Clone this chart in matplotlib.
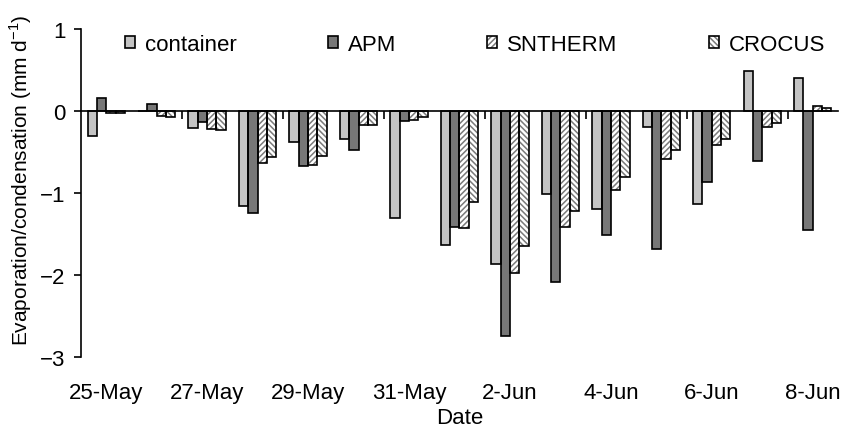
import numpy as np
import matplotlib.pyplot as plt

plt.rcParams['font.family'] = ['Liberation Sans', 'DejaVu Sans']
plt.rcParams['mathtext.fontset'] = 'custom'
plt.rcParams['mathtext.rm'] = 'Liberation Sans'
plt.rcParams['hatch.linewidth'] = 1.1

# daily evaporation/condensation (mm d-1)
dates = ['25-May', '26-May', '27-May', '28-May', '29-May', '30-May', '31-May', '1-Jun',
         '2-Jun', '3-Jun', '4-Jun', '5-Jun', '6-Jun', '7-Jun', '8-Jun']
container = [-0.31, 0.0, -0.21, -1.16, -0.38, -0.34, -1.30, -1.63,
             -1.87, -1.01, -1.20, -0.19, -1.14, 0.49, 0.40]
apm = [0.16, 0.09, -0.13, -1.24, -0.67, -0.48, -0.12, -1.41,
       -2.74, -2.09, -1.51, -1.68, -0.87, -0.61, -1.45]
sntherm = [-0.02, -0.06, -0.22, -0.63, -0.66, -0.17, -0.11, -1.43,
           -1.97, -1.41, -0.96, -0.59, -0.41, -0.20, 0.06]
crocus = [-0.03, -0.07, -0.23, -0.56, -0.55, -0.17, -0.07, -1.11,
          -1.65, -1.22, -0.81, -0.48, -0.34, -0.15, 0.04]

series = [('container', container, '#c4c4c4', None),
          ('APM', apm, '#777777', None),
          ('SNTHERM', sntherm, 'white', '//////'),
          ('CROCUS', crocus, 'white', '\\\\\\\\\\\\')]

x = np.arange(len(dates))
w = 0.185

fig = plt.figure(figsize=(8.41, 4.31), dpi=100)
ax = fig.add_axes([0.0963, 0.1694, 0.9001, 0.761])

handles = []
for k, (name, vals, col, hatch) in enumerate(series):
    pos = x + (k - 1.5) * w
    if hatch:
        fill = ax.bar(pos, vals, w, color=col, edgecolor='#7a7a7a', hatch=hatch, lw=0, zorder=2)
    else:
        fill = ax.bar(pos, vals, w, color=col, lw=0, zorder=2)
    edge = ax.bar(pos, vals, w, fill=False, edgecolor='black', lw=1.2, zorder=3)
    handles.append((fill, edge))

ax.set_xlim(-0.5, len(dates) - 0.5)
ax.set_ylim(-3, 1)
ax.set_yticks([-3, -2, -1, 0, 1])
ax.set_yticklabels(['\u22123', '\u22122', '\u22121', '0', '1'])

# zero line carries the tick marks between every second day
ax.spines['bottom'].set_position(('data', 0))
ax.spines['bottom'].set_linewidth(1.2)
ax.spines['bottom'].set_zorder(4)
ax.spines['left'].set_linewidth(1.2)
ax.spines['top'].set_visible(False)
ax.spines['right'].set_visible(False)
ax.set_xticks(x[1::2] + 0.5)
ax.tick_params(axis='x', direction='out', length=6, width=1.2, labelbottom=False)
ax.tick_params(axis='y', direction='out', length=5, width=1.2, labelsize=16, pad=6)

sec = ax.secondary_xaxis('bottom')
sec.set_xticks(x[::2])
sec.set_xticklabels(dates[::2])
sec.tick_params(length=0, labelsize=16, pad=18)
sec.spines['bottom'].set_visible(False)
sec.set_xlabel('Date', fontsize=16, labelpad=3)

ax.set_ylabel('Evaporation/condensation (mm d$^{-1}$)', fontsize=15)
ax.yaxis.set_label_coords(-0.062, 0.543)

ax.legend(handles, [s[0] for s in series], ncol=4, loc='center left',
          bbox_to_anchor=(0.058, 0.954), frameon=False, fontsize=16,
          handlelength=0.45, handleheight=0.45, handletextpad=0.45,
          columnspacing=4.1, borderpad=0, borderaxespad=0)

fig.savefig('out.png', dpi=100)
